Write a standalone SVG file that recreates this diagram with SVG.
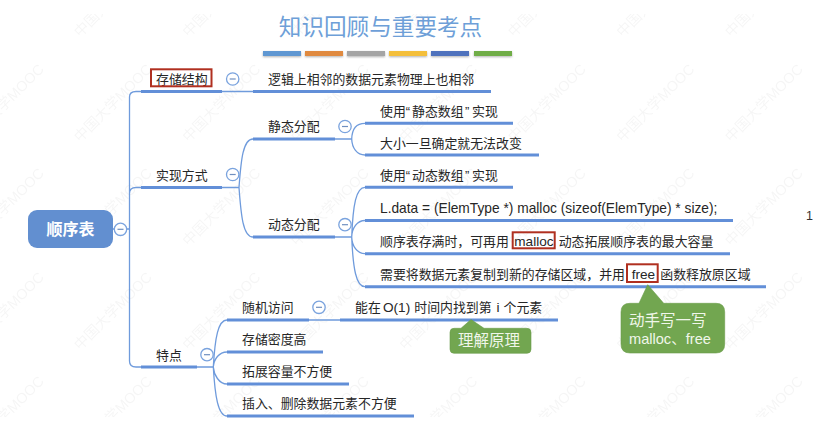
<svg xmlns="http://www.w3.org/2000/svg" width="831" height="429" viewBox="0 0 831 429">
<style>
text{font-family:"Liberation Sans","Noto Sans CJK SC",sans-serif}
.t{font-size:12.9px;fill:#262626}
.la{font-size:13.600px}
.wm{font-size:14.500px;fill:#000;opacity:.035}
.l{fill:none;stroke:#6f9bdc;stroke-width:1.300}
.h{fill:none;stroke:#628fd8;stroke-width:3}
.c{fill:#fff;stroke:#7aa3de;stroke-width:1.300}
.m{stroke:#6f8fc0;stroke-width:1.200}
.r{fill:none;stroke:#b03020;stroke-width:2}
.g{fill:#72a650;stroke:#6a9c4a;stroke-width:.6}
.gt{fill:#f0f6ea;font-size:15.500px}
.gl{font-size:14.600px}
</style>
<defs>
<g id="mk"><text class="wm" transform="rotate(-45)" x="0" y="0">中国大学MOOC</text></g>
<g id="col"><circle class="c" r="6.200"/><path class="m" d="M-3 0H3"/></g>
<clipPath id="wc"><rect y="14" width="831" height="403"/></clipPath>
<filter id="sh" x="-10%" y="-50%" width="120%" height="220%"><feDropShadow dx="0" dy="1" stdDeviation="1" flood-opacity=".3"/></filter>
</defs>
<rect width="831" height="429" fill="#fff"/>
<g id="watermark" clip-path="url(#wc)">
<use href="#mk" x="80" y="38"/><use href="#mk" x="188.500" y="38"/><use href="#mk" x="297" y="38"/><use href="#mk" x="405.500" y="38"/><use href="#mk" x="514" y="38"/><use href="#mk" x="622.500" y="38"/><use href="#mk" x="731" y="38"/>
<use href="#mk" x="-28" y="143"/><use href="#mk" x="80" y="143"/><use href="#mk" x="188.500" y="143"/><use href="#mk" x="297" y="143"/><use href="#mk" x="405.500" y="143"/><use href="#mk" x="514" y="143"/><use href="#mk" x="622.500" y="143"/><use href="#mk" x="731" y="143"/>
<use href="#mk" x="-28" y="247"/><use href="#mk" x="80" y="247"/><use href="#mk" x="188.500" y="247"/><use href="#mk" x="297" y="247"/><use href="#mk" x="405.500" y="247"/><use href="#mk" x="514" y="247"/><use href="#mk" x="622.500" y="247"/><use href="#mk" x="731" y="247"/>
<use href="#mk" x="-28" y="351"/><use href="#mk" x="80" y="351"/><use href="#mk" x="188.500" y="351"/><use href="#mk" x="297" y="351"/><use href="#mk" x="405.500" y="351"/><use href="#mk" x="514" y="351"/><use href="#mk" x="622.500" y="351"/><use href="#mk" x="731" y="351"/>
<use href="#mk" x="-28" y="455"/><use href="#mk" x="80" y="455"/><use href="#mk" x="188.500" y="455"/><use href="#mk" x="297" y="455"/><use href="#mk" x="405.500" y="455"/><use href="#mk" x="514" y="455"/><use href="#mk" x="622.500" y="455"/><use href="#mk" x="731" y="455"/>
</g>
<g id="title">
<text x="380.500" y="35" text-anchor="middle" font-size="22.600" fill="#6e9fd8">知识回顾与重要考点</text>
<g filter="url(#sh)">
<rect x="263" y="51" width="38" height="5" fill="#5f97d2"/><rect x="305" y="51" width="38" height="5" fill="#e08a40"/><rect x="347" y="51" width="38" height="5" fill="#a5a5a5"/><rect x="389" y="51" width="38" height="5" fill="#f4bf3a"/><rect x="431" y="51" width="38" height="5" fill="#4f72bd"/><rect x="474" y="51" width="38" height="5" fill="#70ad47"/>
</g>
</g>
<g id="connectors">
<path class="l" d="M129.500 229V97Q129.500 91.500 136 91.500H141M129.500 229V193.500Q129.500 187.500 136 187.500H141M129.500 229V361Q129.500 367 136 367H141"/>
<path class="l" d="M113 229H129.500M222 91.500H253M222 187.500H239M197 367H213.300M309 320H340M335 139H351.700M335 237H351.700"/>
<path class="l" d="M239 187.500C241 160 243 139 253 139M239 187.500C241 215 243 237 253 237"/>
<path class="l" d="M351.700 139C352 128 357 123.300 365 123.300M351.700 139C352 148 357 155 365 155"/>
<path class="l" d="M351.700 237C353 205 356 187.300 365 187.300M351.700 237C352 228 357 220.500 365 220.500M351.700 237C352 246 357 253.700 365 253.700M351.700 237C353 268 356 286.700 365 286.700"/>
<path class="l" d="M213.300 367C215 338 218 320 227 320M213.300 367C214 359 219 352 227 352M213.300 367C214 375 219 384 227 384M213.300 367C215 396 218 416 227 416"/>
<path class="h" d="M141 91.500H222M253 91.500H491M141 187.500H222M141 367H197M253 139H335M253 237H335M365 123.300H513M365 155H539M365 187.300H513M365 220.500H733M365 253.700H730M365 286.700H766M227 320H309M340 320H558M227 352H323M227 384H349M227 416H414"/>
</g>
<g id="root"><rect x="28" y="210" width="85" height="38" rx="9" fill="#628fd0"/><text x="70.500" y="235" text-anchor="middle" font-size="16" font-weight="700" fill="#fff">顺序表</text><use href="#col" x="120.500" y="229.300"/></g>
<g id="n-storage"><text class="t" x="156" y="84">存储结构</text><rect class="r" x="151" y="69.300" width="60.500" height="17"/><use href="#col" x="232.700" y="79"/></g>
<g id="n-storage-1"><text class="t" x="268" y="84">逻辑上相邻的数据元素物理上也相邻</text></g>
<g id="n-impl"><text class="t" x="156" y="179.500">实现方式</text><use href="#col" x="232.700" y="174.500"/></g>
<g id="n-static"><text class="t" x="268" y="131">静态分配</text><use href="#col" x="345" y="126.500"/></g>
<g id="n-static-1"><text class="t" x="380" y="115.500">使用“<tspan x="412">静态数组</tspan><tspan x="465">”</tspan><tspan x="472">实现</tspan></text></g>
<g id="n-static-2"><text class="t" x="380" y="147.500">大小一旦确定就无法改变</text></g>
<g id="n-dynamic"><text class="t" x="268" y="229">动态分配</text><use href="#col" x="345" y="224.700"/></g>
<g id="n-dynamic-1"><text class="t" x="380" y="179.500">使用“<tspan x="412">动态数组</tspan><tspan x="465">”</tspan><tspan x="472">实现</tspan></text></g>
<g id="n-dynamic-2"><text class="t" x="380" y="212.500" style="font-size:13.750px">L.data = (ElemType *) malloc (sizeof(ElemType) * size);</text></g>
<g id="n-dynamic-3"><text class="t" x="380" y="245.500">顺序表存满时，可再用<tspan class="la" x="514.300">malloc</tspan><tspan x="558.700">动态拓展顺序表的最大容量</tspan></text><rect class="r" x="512.700" y="232.300" width="42" height="16"/></g>
<g id="n-dynamic-4"><text class="t" x="380" y="278.500">需要将数据元素复制到新的存储区域，并用<tspan class="la" x="631.700">free</tspan><tspan x="660.300">函数释放原区域</tspan></text><rect class="r" x="627" y="264.300" width="30.700" height="17.700"/></g>
<g id="n-feature"><text class="t" x="156" y="359.500">特点</text><use href="#col" x="207" y="354.700"/></g>
<g id="n-random"><text class="t" x="242" y="312">随机访问</text><use href="#col" x="319" y="307.300"/></g>
<g id="n-random-1"><text class="t" x="355" y="312">能在<tspan class="la" x="383">O(1)</tspan><tspan x="414.300">时间内找到第</tspan><tspan class="la" x="496.500">i</tspan><tspan x="503.500">个元素</tspan></text></g>
<g id="n-density"><text class="t" x="242" y="344">存储密度高</text></g>
<g id="n-expand"><text class="t" x="242" y="376">拓展容量不方便</text></g>
<g id="n-insert"><text class="t" x="242" y="408">插入、删除数据元素不方便</text></g>
<g id="callout-1"><path class="g" d="M454 328.300H461L471 319.500L484 328.300H527Q531 328.300 531 332.300V349.300Q531 353.300 527 353.300H454Q450 353.300 450 349.300V332.300Q450 328.300 454 328.300Z"/><text class="gt" x="458" y="346">理解原理</text></g>
<g id="callout-2"><path class="g" d="M630 303.300H639L647.700 284.700L663.700 303.300H716Q724.700 303.300 724.700 312V344Q724.700 353 716 353H630Q621 353 621 344V312Q621 303.300 630 303.300Z"/><text class="gt" x="629" y="326">动手写一写</text><text class="gt gl" x="629" y="344">malloc、free</text></g>
<text x="806" y="220" font-size="12.500" fill="#333">1</text>
</svg>
